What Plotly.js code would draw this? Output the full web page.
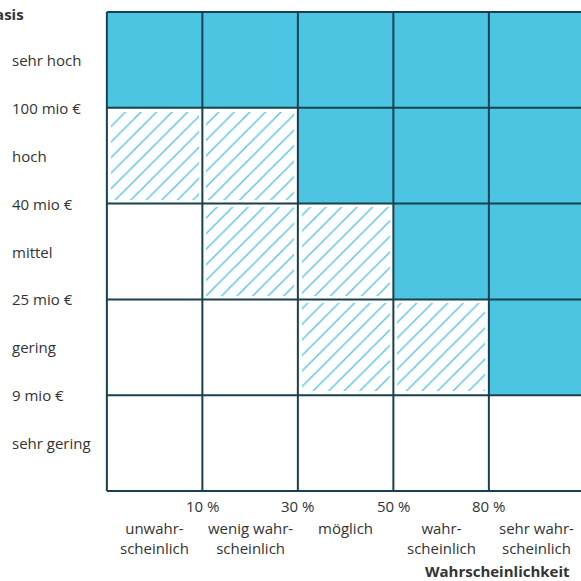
<!DOCTYPE html>
<html>
<head>
<meta charset="utf-8">
<script src="https://cdn.plot.ly/plotly-3.0.1.min.js"></script>
<style>html,body{margin:0;padding:0;background:#fff;}#chart{width:581px;height:581px;}</style>
</head>
<body>
<div id="chart"></div>
<script>
// Data
const probCategories = ["unwahr-<br>scheinlich", "wenig wahr-<br>scheinlich", "möglich", "wahr-<br>scheinlich", "sehr wahr-<br>scheinlich"];
const probThresholds = ["10 %", "30 %", "50 %", "80 %"];
// bottom to top
const impactCategories = ["sehr gering", "gering", "mittel", "hoch", "sehr hoch"];
const impactThresholds = ["9 mio €", "25 mio €", "40 mio €", "100 mio €"];
// rows bottom to top, columns left to right: 0 = empty, 1 = hatched, 2 = solid
const riskMatrix = [
  [0, 0, 0, 0, 0],
  [0, 0, 1, 1, 2],
  [0, 1, 1, 2, 2],
  [1, 1, 2, 2, 2],
  [2, 2, 2, 2, 2]
];
const yTitle = "Basis";
const xTitle = "Wahrscheinlichkeit";

const blue = "#4BC5E2";
const gridColor = "#17414F";
const textColor = "#333333";
const font = "Open Sans, sans-serif";

const solid = {x: [], base: [], y: []};
const hatch = {x: [], base: [], y: []};
const pad = 0.04;
riskMatrix.forEach((row, r) => row.forEach((v, c) => {
  if (v === 2) { solid.x.push(c + 0.5); solid.base.push(r); solid.y.push(1); }
  if (v === 1) { hatch.x.push(c + 0.5); hatch.base.push(r + pad); hatch.y.push(1 - 2 * pad); }
}));

const traces = [
  {type: "bar", x: solid.x, y: solid.y, base: solid.base, width: 1,
   marker: {color: blue, line: {width: 0}}, hoverinfo: "skip", showlegend: false},
  {type: "bar", x: hatch.x, y: hatch.y, base: hatch.base, width: 1 - 2 * pad,
   marker: {color: "white", line: {width: 0},
            pattern: {shape: "/", fgcolor: blue, bgcolor: "white", fgopacity: 1, size: 11, solidity: 0.12, fillmode: "replace"}},
   hoverinfo: "skip", showlegend: false}
];

const nCols = probCategories.length, nRows = impactCategories.length;
const shapes = [];
for (let i = 0; i <= nCols; i++) shapes.push({type: "line", xref: "x", yref: "y", x0: i, x1: i, y0: 0, y1: nRows, layer: "above", line: {color: gridColor, width: 2}});
for (let j = 0; j <= nRows; j++) shapes.push({type: "line", xref: "x", yref: "y", x0: 0, x1: nCols, y0: j, y1: j, layer: "above", line: {color: gridColor, width: 2}});

const L = 104, T = 9, W = 477, H = 485;
const px2x = p => (p - L) / W;
const py2y = p => (T + H - p) / H;

const ann = [];
const f = {family: font, size: 15, color: textColor};
impactCategories.forEach((t, j) => ann.push({text: t, xref: "paper", yref: "y", x: px2x(10), y: j + 0.5, xanchor: "left", yanchor: "middle", showarrow: false, font: f}));
impactThresholds.forEach((t, j) => ann.push({text: t, xref: "paper", yref: "y", x: px2x(10), y: j + 1, xanchor: "left", yanchor: "middle", showarrow: false, font: f}));
probThresholds.forEach((t, i) => ann.push({text: t, xref: "x", yref: "paper", x: i + 1, y: py2y(506), xanchor: "center", yanchor: "middle", showarrow: false, font: f}));
probCategories.forEach((t, i) => ann.push({text: t, xref: "x", yref: "paper", x: i + 0.5, y: py2y(516), xanchor: "center", yanchor: "top", showarrow: false, font: f}));
ann.push({text: "<b>" + xTitle + "</b>", xref: "paper", yref: "paper", x: px2x(571), y: py2y(571), xanchor: "right", yanchor: "middle", borderpad: 0, showarrow: false, font: f});
ann.push({text: "<b>" + yTitle + "</b>", xref: "paper", yref: "paper", x: px2x(26), y: py2y(14), xanchor: "right", yanchor: "middle", showarrow: false, font: f});

const layout = {
  width: 581, height: 581,
  margin: {l: L, r: 0, t: T, b: 581 - T - H, pad: 0},
  paper_bgcolor: "white", plot_bgcolor: "white",
  barmode: "overlay", bargap: 0,
  xaxis: {range: [-0.03, -0.03 + W / 95.5], showgrid: false, zeroline: false, showticklabels: false, ticks: "", showline: false, fixedrange: true},
  yaxis: {range: [-0.03, 5.03], showgrid: false, zeroline: false, showticklabels: false, ticks: "", showline: false, fixedrange: true},
  shapes: shapes,
  annotations: ann,
  font: {family: font, color: textColor}
};

Plotly.newPlot("chart", traces, layout, {displayModeBar: false, staticPlot: true});
</script>
</body>
</html>
